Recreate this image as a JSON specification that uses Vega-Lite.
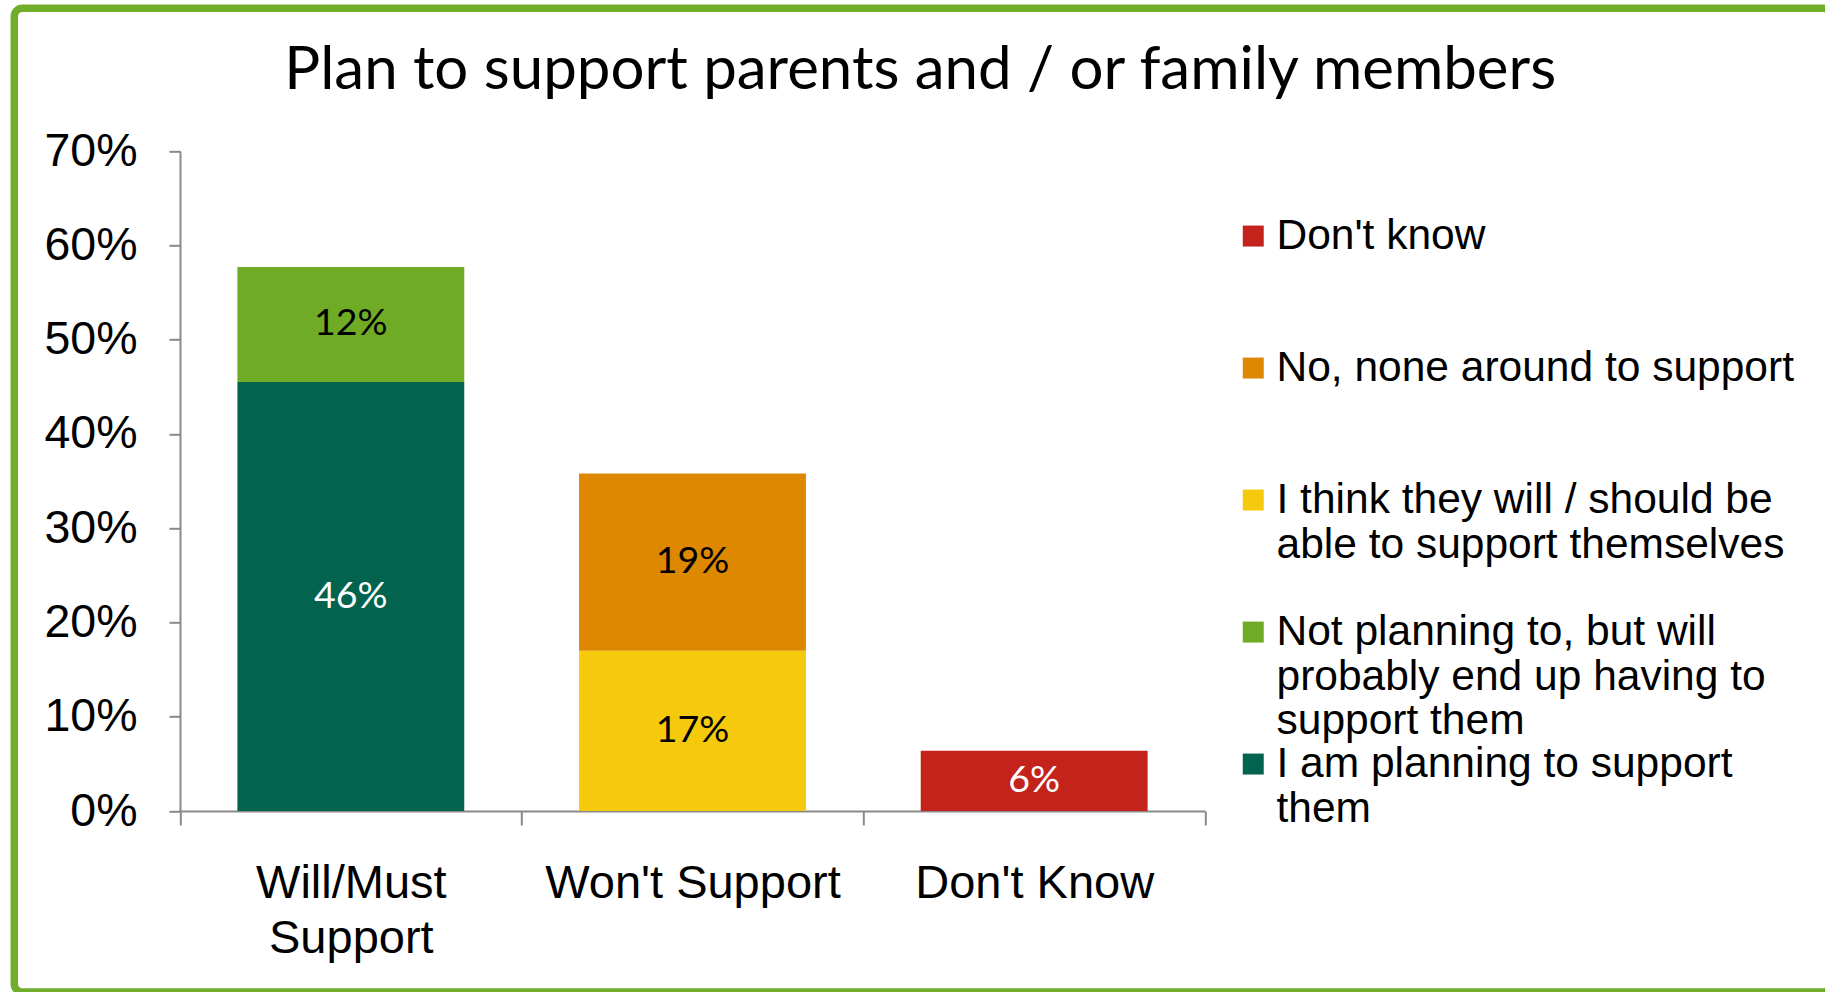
{
  "$schema": "https://vega.github.io/schema/vega-lite/v6.json",
  "autosize": {"type": "none"},
  "padding": {"left": 14.3, "top": 8.3, "right": -6, "bottom": 0},
  "width": 1816.7,
  "height": 983.7,
  "background": "white",
  "title": {
    "text": "Plan to support parents and / or family members",
    "font": "Lato",
    "fontSize": 60,
    "fontWeight": "normal",
    "color": "black",
    "anchor": "start",
    "frame": "group",
    "orient": "top",
    "baseline": "alphabetic",
    "offset": -141,
    "dx": 270
  },
  "config": {
    "view": {"stroke": "#70AD28", "strokeWidth": 7.5, "cornerRadius": 8, "fill": "white"},
    "style": {"guide-label": {"lineHeight": 44.5}}
  },
  "data": {
    "values": [
      {"group": "Will/Must Support", "response": "I am planning to support them", "pct": 0.455, "label": "46%", "rank": 1},
      {"group": "Will/Must Support", "response": "Not planning to, but will probably end up having to support them", "pct": 0.122, "label": "12%", "rank": 2},
      {"group": "Won't Support", "response": "I think they will / should be able to support themselves", "pct": 0.170, "label": "17%", "rank": 1},
      {"group": "Won't Support", "response": "No, none around to support", "pct": 0.188, "label": "19%", "rank": 2},
      {"group": "Don't Know", "response": "Don't know", "pct": 0.064, "label": "6%", "rank": 1}
    ]
  },
  "encoding": {
    "x": {
      "field": "group",
      "type": "nominal",
      "sort": ["Will/Must Support", "Won't Support", "Don't Know"],
      "scale": {"range": [165.7, 1190.7], "paddingInner": 0, "paddingOuter": 0},
      "axis": {
        "title": null,
        "orient": "bottom",
        "offset": -181,
        "tickBand": "extent",
        "domainColor": "#898989",
        "domainWidth": 2,
        "tickColor": "#898989",
        "tickWidth": 2,
        "tickSize": 14,
        "labelFont": "Liberation Sans",
        "labelFontSize": 47,
        "labelColor": "black",
        "labelAngle": 0,
        "labelPadding": 35,
        "labelLineHeight": 55,
        "labelBaseline": "top",
        "labelLimit": 1000,
        "labelExpr": "datum.value == 'Will/Must Support' ? ['Will/Must', 'Support'] : datum.value"
      }
    }
  },
  "layer": [
    {
      "mark": {"type": "bar", "width": {"band": 0.664}},
      "encoding": {
        "y": {
          "field": "pct",
          "type": "quantitative",
          "stack": "zero",
          "scale": {"domain": [0, 0.7], "range": [802.7, 142.7], "nice": false, "zero": true},
          "axis": {
            "title": null,
            "values": [0, 0.1, 0.2, 0.3, 0.4, 0.5, 0.6, 0.7],
            "format": ".0%",
            "offset": -165.7,
            "grid": false,
            "domainColor": "#898989",
            "domainWidth": 2,
            "tickColor": "#898989",
            "tickWidth": 2,
            "tickSize": 11,
            "labelFont": "Liberation Sans",
            "labelFontSize": 46.5,
            "labelColor": "black",
            "labelPadding": 32
          }
        },
        "color": {
          "field": "response",
          "type": "nominal",
          "sort": ["Don't know", "No, none around to support", "I think they will / should be able to support themselves", "Not planning to, but will probably end up having to support them", "I am planning to support them"],
          "scale": {
            "domain": ["Don't know", "No, none around to support", "I think they will / should be able to support themselves", "Not planning to, but will probably end up having to support them", "I am planning to support them"],
            "range": ["#C4231C", "#DE8800", "#F5CA0C", "#6FAB25", "#02634E"]
          },
          "legend": {
            "title": null,
            "orient": "none",
            "legendX": 1217.7,
            "legendY": 206.5,
            "padding": 0,
            "symbolType": "square",
            "symbolSize": 440,
            "symbolStrokeWidth": 0,
            "labelFont": "Liberation Sans",
            "labelFontSize": 42.5,
            "labelColor": "black",
            "labelLimit": 1000,
            "labelOffset": 2,
            "labelBaseline": "middle",
            "gridAlign": "all",
            "rowPadding": 0,
            "labelExpr": "datum.label == 'I think they will / should be able to support themselves' ? ['I think they will / should be', 'able to support themselves'] : datum.label == 'Not planning to, but will probably end up having to support them' ? ['Not planning to, but will', 'probably end up having to', 'support them'] : datum.label == 'I am planning to support them' ? ['I am planning to support', 'them'] : datum.label"
          }
        },
        "order": {"field": "rank", "type": "quantitative"}
      }
    },
    {
      "mark": {"type": "text", "font": "Lato", "fontSize": 37.5, "baseline": "middle"},
      "encoding": {
        "y": {"field": "pct", "type": "quantitative", "stack": "zero", "bandPosition": 0.5},
        "detail": {"field": "response", "type": "nominal"},
        "order": {"field": "rank", "type": "quantitative"},
        "text": {"field": "label", "type": "nominal"},
        "color": {
          "condition": {"test": "datum.response == 'I am planning to support them' || datum.response == \"Don't know\"", "value": "white"},
          "value": "black"
        }
      }
    }
  ]
}
